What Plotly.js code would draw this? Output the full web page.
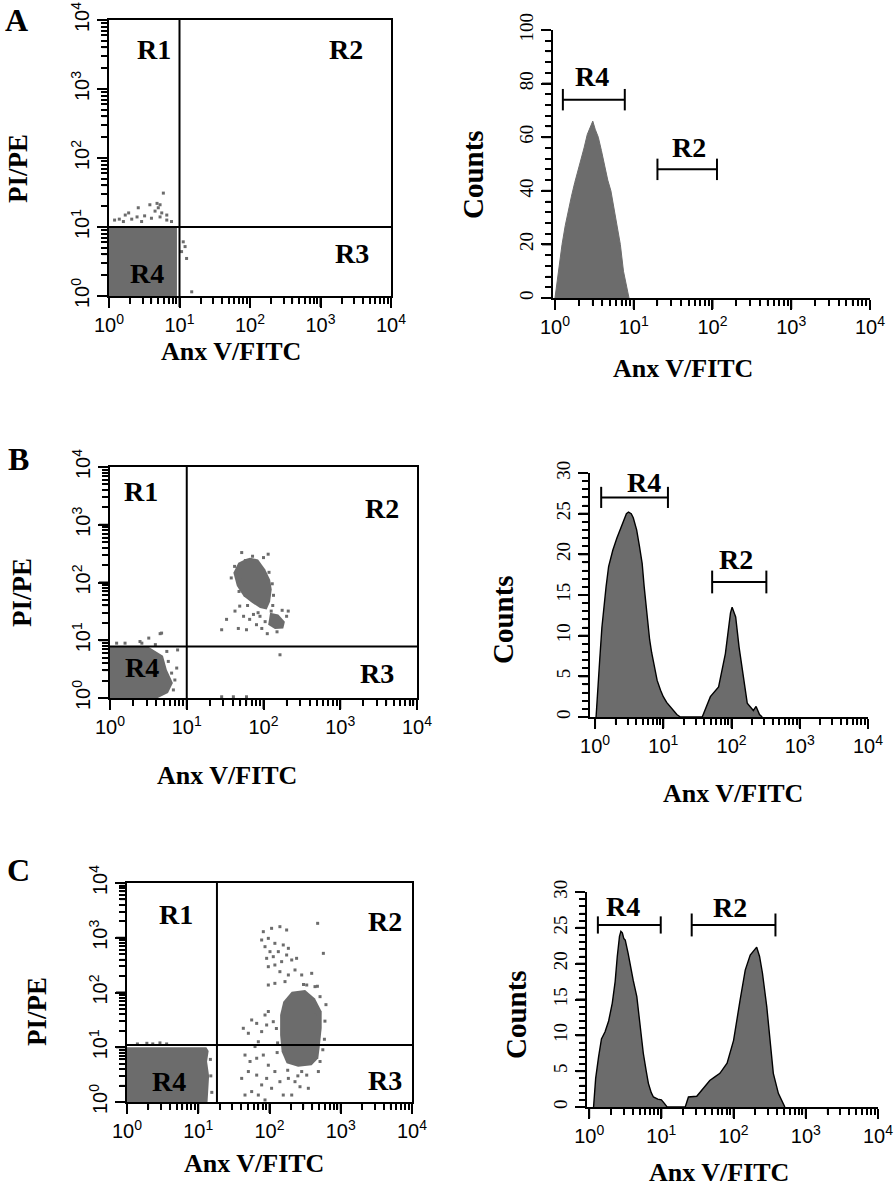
<!DOCTYPE html>
<html><head><meta charset="utf-8">
<script src="https://cdn.plot.ly/plotly-3.0.1.min.js"></script>
<style>html,body{margin:0;padding:0;background:#fff}#chart{width:896px;height:1191px}</style>
</head><body><div id="chart"></div>
<script>
// ---------- tick definitions ----------
const logTickVals = [1, 10, 100, 1000, 10000];
const logTickText = ['10<sup>0</sup>', '10<sup>1</sup>', '10<sup>2</sup>', '10<sup>3</sup>', '10<sup>4</sup>'];
const logMinorVals = [2,3,4,5,6,7,8,9,20,30,40,50,60,70,80,90,200,300,400,500,600,700,800,900,2000,3000,4000,5000,6000,7000,8000,9000];
const countTicksA = [0, 20, 40, 60, 80, 100];
const countTicksBC = [0, 5, 10, 15, 20, 25, 30];

// ---------- gates (quadrant thresholds) ----------
const gateA = [10, 10];
const gateB = [10, 7.8];
const gateC = [18.3, 11];

// ---------- Panel A: dot plot ----------
const aDenseX = [1, 9.2, 9.2, 1];
const aDenseY = [1, 1, 10, 10];
const aDotsX = [5.9,4.8,2.6,3.8,5.0,4.5,5.6,3.2,2.5,1.9,1.4,1.2,1.6,2.1,2.9,4.0,5.3,6.6,7.7,6.6,1.7,5.3,11.3,12,10.7,12.6,14.9];
const aDotsY = [31,22,19,21,19,17,16,14.5,14,16,13,12.6,12,13,12,13.4,14,12.6,12,14.9,14.9,21,6.1,5.2,4.4,3.5,1.15];

// ---------- Panel A: histogram ----------
const aHistX = [1.00,1.05,1.12,1.23,1.35,1.48,1.62,1.78,1.95,2.14,2.34,2.57,2.82,3.02,3.24,3.55,3.89,4.27,4.68,5.13,5.62,6.17,6.76,7.41,8.13,8.71];
const aHistY = [0,5,12,20,27,33,38,43,47,52,56,61,64,66,63,60,55,49,44,40,33,27,20,10,4,0];
const aBracketR4 = [1.26, 7.7, 74];
const aBracketR2 = [20, 114, 48];

// ---------- Panel B: dot plot ----------
const bDenseR4X = [1, 3.13, 4.9, 5.5, 6.6, 5.7, 4.2, 1];
const bDenseR4Y = [7.8, 7.8, 5.4, 3.07, 1.82, 1.22, 1, 1];
const bDenseMainX = [66.7,85,105,122,128,122,110,90,70,55,45,40.5,47,60];
const bDenseMainY = [269,251,170,112,76,47,34,36,45,58,87,148,219,257];
const bDenseLowX = [122,156,190,181,141,115];
const bDenseLowY = [30,28,21,16,15.6,18.6];
const bDotsX = [52,115,33,28.5,49,55,66,81,47,60,95,210,42.5,90,74,105,164,28.5,40.5,60,3.2,4.5,3.9,5.75,6.35,7.0,6.7,7.4,7.6,5.5,2.6,1.57,1.22,4.7,2.46,38,42,130,135,118,100,72,58,48,50,62,85,132,126,200,175,150,112];
const bDotsY = [330,309,23,15.2,39,26,23,18.6,16,15.2,16,32,32,26,28,21,5.6,1.05,1.05,1.05,10.9,13,8.4,4.3,2.7,2.05,1.38,3.3,6.8,6.4,8.9,8.9,8.9,13.3,9.5,120,190,95,60,150,270,285,240,70,110,40,30,40,32,26,33,14,13];

// ---------- Panel B: histogram ----------
const bHistX = [1.035,1.10,1.17,1.26,1.32,1.45,1.58,1.82,2.09,2.34,2.63,2.88,3.09,3.39,3.63,4.07,4.47,4.90,5.25,5.75,6.31,6.76,7.41,8.13,9.12,10,11.2,12.6,14.1,15.8,17.8,37.2,49.0,64.6,81.3,96.6,102,115,129,145,170,209,229,257,282];
const bHistY = [0,3,7,11,13,16,18.5,20.5,22,23,24.2,25,25.2,25,24.5,23,21,18.9,16,12.3,9.5,7.9,6,4.5,3.3,2.5,1.8,1.3,0.7,0.3,0,0,2.5,3.7,7.8,12.8,13.5,12.3,8.6,5.4,1.7,0.8,1.3,0.3,0];
const bBracketR4 = [1.23, 11.7, 27];
const bBracketR2 = [52, 324, 16.6];

// ---------- Panel C: dot plot ----------
const cDenseR4X = [1, 13.5, 14.2, 13.3, 14, 13, 1];
const cDenseR4Y = [1, 1, 3, 5.5, 8.5, 10, 10];
const cDenseMainX = [205,316,435,540,540,510,484,390,252,174,148,141,141,156];
const cDenseMainY = [103,111,78,45,22.4,11,6.3,4.7,4.4,5.1,8.3,16.7,39,68];
const cDotsX = [81.9,107,140,174,77.6,96.3,119,156,184,86.5,101.6,133,174,91.2,113,148,205,240,119,96.3,228,140,184,283,391,119,96.3,165,333,435,474,570,42.9,50.5,56.2,66.1,77.6,86.5,96.3,91.2,113,69.7,62.6,45.3,53.3,66.1,81.9,96.3,50.5,40.7,66.1,91.2,119,77.6,56.2,69.7,107,140,184,228,283,333,351,268,205,156,86.5,45.3,512,485,435,512,412,1.4,1.9,2.3,2.9,3.6,15,15.5,14.8,600,620,590,130,125,128,180,560,470,300,250];
const cDotsY = [1291,1486,1593,1386,910,975,791,738,641,687,557,557,484,421,451,366,393,421,318,296,258,240,209,209,224,147,137,158,137,128,1834,519,22.2,18,31.5,27.3,19.3,38.8,45,25.5,29.3,12.6,10.3,7.2,5.5,6.3,7.2,4.7,3.6,2.7,3.1,2.7,3.6,2.05,1.55,1.34,1.78,2.35,2.7,2.35,3.6,3.1,1.78,1.9,1.34,1.34,1.09,1.34,5.5,3.6,38.8,84,55,11.5,11.8,11.5,12,11.5,3,1.5,6,30,60,14,12,22,8,3.8,9,130,140,3];

// ---------- Panel C: histogram ----------
const cHistX = [1.15,1.23,1.35,1.48,1.66,1.86,2.09,2.29,2.45,2.63,2.75,2.88,3.02,3.16,3.47,3.80,4.07,4.57,5.13,5.62,6.17,6.61,7.24,7.76,8.91,10,11.0,12.0,21.4,23.7,30.9,38.0,46.8,55.0,64.6,81.3,100,123,145,170,209,229,251,288,324,355,417,490,513];
const cHistY = [0,4,7,9.5,10.5,12,14.5,17.5,21,23.8,24.5,24.3,23.5,23.3,21.4,19,17.7,15.4,11.2,7.5,5,3.3,2,1.4,1.1,1.0,0.5,0,0,1.4,1.5,2.6,3.7,4.2,4.7,6.1,9.3,14.9,19.1,21.2,22.3,21,18.7,14,9.3,4.7,1.9,0.5,0];
const cBracketR4 = [1.32, 9.8, 25.4];
const cBracketR2 = [26.3, 380, 25.4];

// ---------- styles ----------
const GRAY = '#6c6c6c';
const SERIF = 'Liberation Serif, Times New Roman, serif';
const SANS = 'Liberation Sans Narrow, Liberation Sans, Arial, sans-serif';
const W = 896, H = 1191;
const px = v => v / W;
const py = v => 1 - v / H;

function logAxis(d0, d1, r0, anchor, mirror, angle) {
  return {
    type: 'log', domain: [d0, d1], range: [r0, 4], anchor: anchor,
    tickmode: 'array', tickvals: logTickVals, ticktext: logTickText,
    ticks: 'outside', ticklen: 10, tickwidth: 2, tickcolor: '#000',
    minor: {tickmode: 'array', tickvals: logMinorVals, ticks: 'outside', ticklen: 6, tickwidth: 2, tickcolor: '#000'},
    showline: true, linewidth: 2, linecolor: '#000', mirror: mirror,
    showgrid: false, zeroline: false, tickangle: angle,
    tickfont: {family: SANS, size: 20, color: '#000'}
  };
}
function countAxis(d0, d1, max, ticks, minorStep, anchor) {
  return {
    type: 'linear', domain: [d0, d1], range: [0, max], anchor: anchor,
    tickmode: 'array', tickvals: ticks, ticks: 'outside', ticklen: 10, tickwidth: 2, tickcolor: '#000',
    minor: {dtick: minorStep, tick0: 0, ticks: 'outside', ticklen: 6, tickwidth: 2, tickcolor: '#000'},
    showline: true, linewidth: 2, linecolor: '#000', mirror: false,
    showgrid: false, zeroline: false, tickangle: -90,
    tickfont: {family: SERIF, size: 19, color: '#000'}
  };
}

const traces = [];
function dense(xs, ys, xa, ya) {
  traces.push({x: xs, y: ys, xaxis: xa, yaxis: ya, type: 'scatter', mode: 'none', fill: 'toself', fillcolor: GRAY, hoverinfo: 'skip'});
}
function dots(xs, ys, xa, ya) {
  traces.push({x: xs, y: ys, xaxis: xa, yaxis: ya, type: 'scatter', mode: 'markers', marker: {size: 3, color: GRAY, symbol: 'square'}, hoverinfo: 'skip'});
}
function gates(g, xa, ya) {
  traces.push({x: [g[0], g[0]], y: [1, 10000], xaxis: xa, yaxis: ya, type: 'scatter', mode: 'lines', line: {color: '#000', width: 2}, hoverinfo: 'skip'});
  traces.push({x: [1, 10000], y: [g[1], g[1]], xaxis: xa, yaxis: ya, type: 'scatter', mode: 'lines', line: {color: '#000', width: 2}, hoverinfo: 'skip'});
}
function hist(xs, ys, xa, ya, outline) {
  traces.push({x: xs, y: ys, xaxis: xa, yaxis: ya, type: 'scatter', mode: 'lines', fill: 'tozeroy', fillcolor: GRAY,
    line: {color: outline ? '#000' : GRAY, width: outline ? 1.4 : 1, shape: 'linear'}, hoverinfo: 'skip'});
}
function bracket(b, cap, xa, ya) {
  traces.push({x: [b[0], b[0], null, b[0], b[1], null, b[1], b[1]],
               y: [b[2] - cap, b[2] + cap, null, b[2], b[2], null, b[2] - cap, b[2] + cap],
               xaxis: xa, yaxis: ya, type: 'scatter', mode: 'lines', line: {color: '#000', width: 2}, hoverinfo: 'skip'});
}

// Panel A
dense(aDenseX, aDenseY, 'x', 'y');
dots(aDotsX, aDotsY, 'x', 'y');
gates(gateA, 'x', 'y');
hist(aHistX, aHistY, 'x2', 'y2', false);
bracket(aBracketR4, 4, 'x2', 'y2');
bracket(aBracketR2, 4, 'x2', 'y2');
// Panel B
dense(bDenseR4X, bDenseR4Y, 'x3', 'y3');
dense(bDenseMainX, bDenseMainY, 'x3', 'y3');
dense(bDenseLowX, bDenseLowY, 'x3', 'y3');
dots(bDotsX, bDotsY, 'x3', 'y3');
gates(gateB, 'x3', 'y3');
hist(bHistX, bHistY, 'x4', 'y4', true);
bracket(bBracketR4, 1.3, 'x4', 'y4');
bracket(bBracketR2, 1.4, 'x4', 'y4');
// Panel C
dense(cDenseR4X, cDenseR4Y, 'x5', 'y5');
dense(cDenseMainX, cDenseMainY, 'x5', 'y5');
dots(cDotsX, cDotsY, 'x5', 'y5');
gates(gateC, 'x5', 'y5');
hist(cHistX, cHistY, 'x6', 'y6', true);
bracket(cBracketR4, 1.2, 'x6', 'y6');
bracket(cBracketR2, 1.6, 'x6', 'y6');

// ---------- annotations ----------
const ann = [];
function label(text, x, y, xref, yref, size, angle) {
  ann.push({text: text, x: x, y: y, xref: xref, yref: yref, showarrow: false, xanchor: 'center', yanchor: 'middle',
    textangle: angle || 0, font: {family: SERIF, size: size, color: '#000', weight: 'bold'}});
}
label('A', px(16), py(20), 'paper', 'paper', 32);
label('B', px(18), py(459), 'paper', 'paper', 32);
label('C', px(18), py(870), 'paper', 'paper', 32);
label('PI/PE', px(18), py(169), 'paper', 'paper', 27, -90);
label('PI/PE', px(22), py(593), 'paper', 'paper', 27, -90);
label('PI/PE', px(37), py(1012), 'paper', 'paper', 27, -90);
label('Counts', px(473), py(175), 'paper', 'paper', 29, -90);
label('Counts', px(503), py(620), 'paper', 'paper', 29, -90);
label('Counts', px(516), py(1015), 'paper', 'paper', 29, -90);
label('Anx V/FITC', px(231), py(351), 'paper', 'paper', 26);
label('Anx V/FITC', px(683), py(368), 'paper', 'paper', 26);
label('Anx V/FITC', px(227), py(775), 'paper', 'paper', 26);
label('Anx V/FITC', px(733), py(793), 'paper', 'paper', 26);
label('Anx V/FITC', px(254), py(1163), 'paper', 'paper', 26);
label('Anx V/FITC', px(719), py(1172), 'paper', 'paper', 26);
label('R1', 0.64, 3.57, 'x', 'y', 28); label('R2', 3.36, 3.57, 'x', 'y', 28);
label('R3', 3.45, 0.61, 'x', 'y', 28); label('R4', 0.54, 0.33, 'x', 'y', 28);
label('R1', 0.405, 3.57, 'x3', 'y3', 28); label('R2', 3.54, 3.29, 'x3', 'y3', 28);
label('R3', 3.48, 0.43, 'x3', 'y3', 28); label('R4', 0.42, 0.52, 'x3', 'y3', 28);
label('R1', 0.69, 3.43, 'x5', 'y5', 28); label('R2', 3.62, 3.29, 'x5', 'y5', 28);
label('R3', 3.62, 0.40, 'x5', 'y5', 28); label('R4', 0.59, 0.37, 'x5', 'y5', 28);
label('R4', 0.47, 82.5, 'x2', 'y2', 28); label('R2', 1.70, 56.3, 'x2', 'y2', 28);
label('R4', 0.71, 28.8, 'x4', 'y4', 28); label('R2', 2.07, 19.4, 'x4', 'y4', 28);
label('R4', 0.47, 28.0, 'x6', 'y6', 28); label('R2', 1.95, 27.9, 'x6', 'y6', 28);

const layout = {
  width: W, height: H, margin: {l: 0, r: 0, t: 0, b: 0},
  paper_bgcolor: '#fff', plot_bgcolor: '#fff', showlegend: false,
  xaxis:  logAxis(px(109), px(391), 0, 'y', true, 0),
  yaxis:  logAxis(py(296), py(20), 0, 'x', true, -90),
  xaxis2: logAxis(px(553), px(870), -0.025, 'y2', false, 0),
  yaxis2: countAxis(py(298), py(30), 100, countTicksA, 4, 'x2'),
  xaxis3: logAxis(px(110), px(417), 0, 'y3', true, 0),
  yaxis3: logAxis(py(698), py(467), 0, 'x3', true, -90),
  xaxis4: logAxis(px(590), px(868), -0.074, 'y4', false, 0),
  yaxis4: countAxis(py(717), py(473), 30, countTicksBC, 1, 'x4'),
  xaxis5: logAxis(px(127), px(412), 0, 'y5', true, 0),
  yaxis5: logAxis(py(1102), py(883), 0, 'x5', true, -90),
  xaxis6: logAxis(px(587), px(878), -0.03, 'y6', false, 0),
  yaxis6: countAxis(py(1107), py(892), 30, countTicksBC, 1, 'x6'),
  annotations: ann
};

// Tick marks re-drawn as paper shapes, placed with the library's own axis scales (l2p)
function tickShapes(gd) {
  const fl = gd._fullLayout;
  const shapes = [];
  const names = ['xaxis', 'yaxis', 'xaxis2', 'yaxis2', 'xaxis3', 'yaxis3', 'xaxis4', 'yaxis4', 'xaxis5', 'yaxis5', 'xaxis6', 'yaxis6'];
  names.forEach(function(name) {
    const ax = fl[name];
    const isX = name.charAt(0) === 'x';
    const other = fl[(isX ? 'yaxis' : 'xaxis') + ax.anchor.slice(1)];
    const base = isX ? other._offset + other._length + 2 : other._offset - 2;
    const majors = ax.tickvals.slice();
    let minors = [];
    if (ax.type === 'log') minors = logMinorVals.slice();
    else { const st = ax.minor.dtick; for (let v = 0; v <= ax.range[1] + 1e-9; v += st) minors.push(v); }
    const put = function(v, len, width) {
      const l = ax.type === 'log' ? Math.log10(v) : v;
      if (l < ax.range[0] - 1e-9 || l > ax.range[1] + 1e-9) return;
      const p = ax._offset + ax.l2p(l);
      if (isX) shapes.push({type: 'line', xref: 'paper', yref: 'paper', x0: p / W, x1: p / W, y0: 1 - base / H, y1: 1 - (base + len) / H, line: {color: '#000', width: width}});
      else shapes.push({type: 'line', xref: 'paper', yref: 'paper', x0: base / W, x1: (base - len) / W, y0: 1 - p / H, y1: 1 - p / H, line: {color: '#000', width: width}});
    };
    minors.forEach(function(v) { put(v, 5, 1.3); });
    majors.forEach(function(v) { put(v, 9, 2); });
  });
  return shapes;
}

Plotly.newPlot('chart', traces, layout, {displayModeBar: false}).then(function(gd) {
  return Plotly.relayout(gd, {shapes: tickShapes(gd)});
});
</script></body></html>
